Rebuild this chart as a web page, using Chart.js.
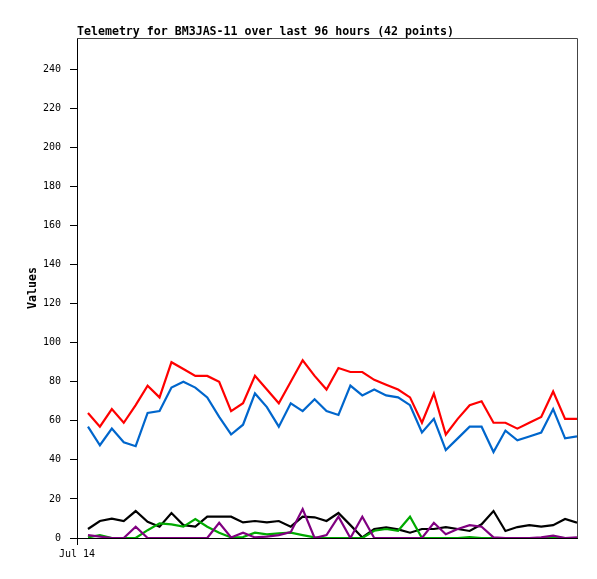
<!DOCTYPE html>
<html>
<head>
<meta charset="utf-8">
<script src="https://cdn.jsdelivr.net/npm/chart.js@4"></script>
<style>
  html, body { margin: 0; padding: 0; background: #fff; }
  canvas { display: block; }
</style>
</head>
<body>
<canvas id="telemetry" width="597" height="579"></canvas>
<script>
// 42 samples over the last 96 hours, first one shortly after Jul 14 00:00
const startLabel = 'Jul 14';
const titleText = 'Telemetry for BM3JAS-11 over last 96 hours (42 points)';
const yTitle = 'Values';
const yTicks = [0, 20, 40, 60, 80, 100, 120, 140, 160, 180, 200, 220, 240];

const ch1 = [64, 57, 66, 59, 68, 78, 72, 90, 86.5, 83, 83, 80, 65, 69, 83, 76, 69, 80, 91, 83, 76, 87, 85, 85, 81, 78.5, 76, 72, 59, 74, 53, 61, 68, 70, 59, 59, 56, 59, 62, 75, 61, 61];
const ch2 = [57, 47.5, 56, 49, 47, 64, 65, 77, 80, 77, 72, 62, 53, 58, 74, 67, 57, 69, 65, 71, 65, 63, 78, 73, 76, 73, 72, 68, 54, 61, 45, 51, 57, 57, 44, 55, 50, 52, 54, 66, 51, 52];
const ch3 = [4.6, 8.7, 9.9, 8.7, 13.8, 8.3, 5.8, 12.8, 6.6, 5.8, 10.9, 10.9, 10.9, 8, 8.7, 8, 8.7, 5.8, 10.9, 10.6, 8.7, 12.8, 6.6, 0.3, 4.6, 5.4, 4.4, 2.7, 4.6, 4.6, 5.6, 4.6, 3.6, 7, 13.8, 3.6, 5.6, 6.6, 5.8, 6.6, 9.7, 7.8];
const ch4 = [0.3, 1.5, 0, 0, 0, 4, 7.5, 7, 5.8, 9.7, 5.8, 2.7, 0.3, 0.5, 2.7, 1.9, 2.4, 2.7, 1.5, 0.3, 0, 0, 0, 0, 3.7, 4.6, 3.7, 10.9, 0, 0, 0, 0, 0.5, 0, 0, 0, 0, 0, 0, 0.5, 0, 0];
const ch5 = [1.5, 0.7, 0, 0, 5.8, 0, 0, 0, 0, 0, 0, 7.8, 0.3, 2.7, 0.3, 0.7, 1.5, 3, 14.8, 0, 1.5, 10.9, 0, 10.9, 0, 0, 0, 0, 0, 7.8, 1.9, 4.6, 6.6, 5.8, 0.3, 0, 0, 0, 0.3, 1.2, 0, 0.3];

function pts(arr) {
    return arr.map((v, i) => ({ x: i, y: v }));
}

function line(data, color) {
    return {
        data: pts(data),
        borderColor: color,
        backgroundColor: color,
        borderWidth: 2.2,
        pointRadius: 0,
        tension: 0,
        fill: false
    };
}

// frame on top/right, title and y axis caption, drawn by hand
const framePlugin = {
    id: 'frame',
    beforeDatasetsDraw(chart) {
        const { ctx, chartArea: a } = chart;
        ctx.save();
        ctx.strokeStyle = '#444';
        ctx.lineWidth = 1;
        ctx.beginPath();
        ctx.moveTo(a.left, a.top + 0.5);
        ctx.lineTo(a.right + 0.5, a.top + 0.5);
        ctx.lineTo(a.right + 0.5, a.bottom);
        ctx.stroke();
        ctx.restore();
    },
    afterDraw(chart) {
        const { ctx, chartArea: a } = chart;
        ctx.save();
        ctx.fillStyle = '#000';
        ctx.font = 'bold 11.6px "DejaVu Sans Mono", monospace';
        ctx.textBaseline = 'alphabetic';
        ctx.fillText(titleText, a.left, 35);
        ctx.translate(33, (a.top + a.bottom) / 2);
        ctx.rotate(-Math.PI / 2);
        ctx.textAlign = 'center';
        ctx.textBaseline = 'middle';
        ctx.fillText(yTitle, 0, 0);
        ctx.restore();
    }
};

const ctx = document.getElementById('telemetry').getContext('2d');
new Chart(ctx, {
    type: 'line',
    data: {
        datasets: [
            line(ch5, '#800080'),
            line(ch4, '#00aa00'),
            line(ch3, '#000000'),
            line(ch1, '#ff0000'),
            line(ch2, '#0066cc')
        ]
    },
    options: {
        responsive: false,
        animation: false,
        layout: { padding: { top: 38, right: 20, left: 0, bottom: 0 } },
        plugins: {
            legend: { display: false },
            tooltip: { enabled: false }
        },
        scales: {
            x: {
                type: 'linear',
                min: -0.92,
                max: 41,
                afterBuildTicks: (s) => { s.ticks = [{ value: s.min }]; },
                afterFit: (s) => { s.height = 41; },
                grid: { drawOnChartArea: false, tickLength: 7, color: '#000' },
                border: { color: '#000' },
                ticks: {
                    callback: () => startLabel,
                    color: '#000',
                    font: { family: 'DejaVu Sans Mono', size: 10 },
                    padding: 3,
                    maxRotation: 0
                }
            },
            y: {
                min: 0,
                max: 256,
                afterBuildTicks: (s) => { s.ticks = yTicks.map(v => ({ value: v })); },
                afterFit: (s) => { s.width = 77; },
                grid: { drawOnChartArea: false, tickLength: 7, color: '#000' },
                border: { color: '#000' },
                ticks: {
                    color: '#000',
                    font: { family: 'DejaVu Sans Mono', size: 10 },
                    padding: 9
                }
            }
        }
    },
    plugins: [framePlugin]
});
</script>
</body>
</html>
